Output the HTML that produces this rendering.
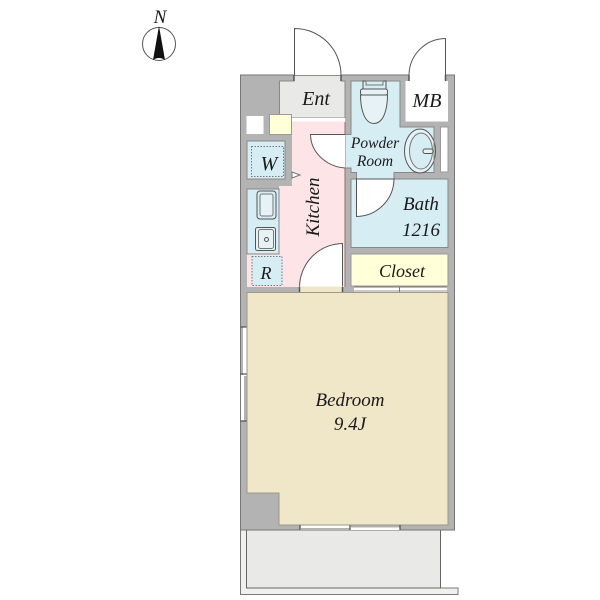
<!DOCTYPE html>
<html><head><meta charset="utf-8"><style>
html,body{margin:0;padding:0;background:#fff}
svg{display:block}
text{font-family:"Liberation Serif",serif;font-style:italic;fill:#1a1a1a;text-anchor:middle}
</style></head><body>
<svg width="600" height="600" viewBox="0 0 600 600" xmlns="http://www.w3.org/2000/svg">
<!-- balcony -->
<path d="M240.500 530V594.500H458V588H440.500V530Z" fill="#f0f0ec" stroke="#777" stroke-width="1"/>
<rect x="246.500" y="530" width="194" height="58" fill="#e9e9e7" stroke="#666" stroke-width="1"/>
<!-- walls -->
<rect x="240.500" y="75" width="214" height="455" fill="#b3b3b3" stroke="#777" stroke-width="1"/>
<!-- doors exterior -->
<path d="M294.500 75V28.500A46.500 46.500 0 0 1 341 75" fill="#fff" stroke="#555"/>
<path d="M445.500 75V38.500A37 37 0 0 0 409 75" fill="#fff" stroke="#555"/>
<!-- Ent -->
<path d="M279.500 81H294V75.500H341V81H345V118H279.500Z" fill="#e9e9e7" stroke="#8a8a80"/>
<path d="M294 75v6M341 75v6" stroke="#555" stroke-width="1.500"/>
<rect x="292" y="118" width="53" height="3.500" fill="#fff"/>
<!-- Kitchen -->
<path d="M292 121.500H345V287H247V254H279V186H292V135H292Z" fill="#fde4e6"/>
<path d="M345 122V287" stroke="#8a7070"/>
<!-- squares -->
<rect x="246.500" y="116" width="17" height="18" fill="#fff"/>
<rect x="269.500" y="114.500" width="22" height="20" fill="#ffffd8" stroke="#999"/>
<!-- W -->
<rect x="247" y="141" width="38" height="38" fill="#d6edf4" stroke="#888"/>
<rect x="251.500" y="146.500" width="32" height="30" fill="none" stroke="#777" stroke-dasharray="1.500 1.500"/>
<path d="M292 172l8 3-8 3z" fill="#fff" stroke="#777"/>
<!-- kitchen counter -->
<rect x="247" y="189" width="32" height="65" fill="#d6edf4" stroke="#888"/>
<rect x="257" y="191" width="19" height="28" rx="3" fill="none" stroke="#555"/>
<rect x="260" y="194" width="13" height="22" rx="2" fill="#e6f2f5" stroke="#777"/>
<rect x="255.500" y="227.500" width="20" height="23" rx="2" fill="#e6f2f5" stroke="#555"/>
<rect x="258.500" y="229.500" width="15" height="19" rx="2" fill="none" stroke="#777"/>
<circle cx="266.500" cy="239.500" r="2" fill="none" stroke="#555"/>
<!-- R -->
<rect x="252" y="256.500" width="30" height="29" fill="#d6edf4" stroke="#777" stroke-dasharray="1.500 1.500"/>
<!-- inner door kitchen -->
<path d="M299.500 287A43.500 44 0 0 1 342.500 243.500V287Z" fill="#fff" stroke="#555"/>
<rect x="299.500" y="286.500" width="43.500" height="6" fill="#f0e6c8"/>
<path d="M299.500 287v5M342.500 287v5" stroke="#555" stroke-width="1.500"/>
<!-- powder -->
<path d="M351 81H400V127H434V172.500H394V179H356.500V172.500H351V168H345V134.500H351Z" fill="#d6edf4" stroke="#888"/>
<rect x="363" y="81" width="23" height="10" fill="none" stroke="#555"/>
<rect x="366" y="81" width="17" height="4" fill="#d6edf4" stroke="#777"/>
<rect x="360.500" y="89" width="27" height="6" rx="2" fill="#e6f2f5" stroke="#555"/>
<path d="M360.500 95C360.500 108 364 123.500 374 123.500C384 123.500 387.500 108 387.500 95Z" fill="#e6f2f5" stroke="#555"/>
<!-- door into powder -->
<path d="M345 134.500H310.500A38 34 0 0 0 345 168Z" fill="#fff"/>
<path d="M345 134.500H310.500A38 34 0 0 0 345 168" fill="none" stroke="#555"/>
<!-- basin -->
<ellipse cx="420" cy="151" rx="15.500" ry="22" fill="#e6f2f5" stroke="#555"/>
<ellipse cx="421" cy="151" rx="11.500" ry="18" fill="#d6edf4" stroke="#777"/>
<rect x="423" y="149" width="10" height="4.500" rx="2" fill="#e6f2f5" stroke="#555"/>
<path d="M434 127V172.500" stroke="#888"/>
<!-- slot -->
<rect x="440.500" y="127" width="7.500" height="45" fill="#fff" stroke="#999"/>
<!-- MB -->
<path d="M405.500 81H409V75H445.500V81H448V121.500H405.500Z" fill="#fff"/>
<path d="M409 75v6M445.500 75v6" stroke="#555" stroke-width="1.500"/>
<!-- bath -->
<rect x="351" y="179" width="97" height="68.500" fill="#d6edf4" stroke="#888"/>
<path d="M356.500 179V216.500A38 38 0 0 0 394 179Z" fill="#fff" stroke="#555"/>
<!-- closet -->
<rect x="351" y="254" width="97" height="32" fill="#ffffd8" stroke="#999"/>
<rect x="354" y="287" width="93" height="5" fill="#fff"/>
<path d="M354 287h93M399.500 287v5" stroke="#777"/>
<rect x="354" y="290" width="45" height="2" fill="#ccc"/>
<rect x="400" y="290" width="47" height="2" fill="#ccc"/>
<!-- bedroom -->
<path d="M247 292.500H448V525H279V493H247Z" fill="#f0e6c8" stroke="#9a9a88"/>
<!-- windows -->
<rect x="241" y="327" width="5.500" height="94" fill="#fff"/>
<rect x="241" y="327" width="2" height="48" fill="#b3b3b3"/>
<rect x="244" y="376" width="2.500" height="45" fill="#b3b3b3"/>
<path d="M240.500 327h6M240.500 374h6M240.500 421h6" stroke="#555" stroke-width="1.300"/>
<rect x="300" y="525.500" width="100" height="4.500" fill="#fff"/>
<rect x="301" y="528" width="49" height="2" fill="#b3b3b3"/>
<rect x="351" y="525.500" width="49" height="2" fill="#b3b3b3"/>
<path d="M300 525v5M350 525v5M400 525v5" stroke="#555" stroke-width="1.300"/>
<!-- compass -->
<circle cx="159" cy="44" r="16.500" fill="#fff" stroke="#555"/>
<path d="M159 26L165 60Q159 56 153 60Z" fill="#111"/>
<!-- labels -->
<text x="160" y="23" font-size="19">N</text>
<text x="316" y="105" font-size="20">Ent</text>
<text x="427" y="107" font-size="20">MB</text>
<text x="375" y="148" font-size="15.500">Powder</text>
<text x="375" y="166" font-size="15.500">Room</text>
<text x="269" y="170" font-size="20">W</text>
<text x="266" y="279" font-size="18">R</text>
<text x="421" y="210" font-size="19">Bath</text>
<text x="421" y="236" font-size="19">1216</text>
<text x="402" y="277" font-size="18">Closet</text>
<text transform="translate(319 207) rotate(-90)" font-size="19">Kitchen</text>
<text x="350" y="406" font-size="19">Bedroom</text>
<text x="350" y="430" font-size="19">9.4J</text>
</svg>
</body></html>
